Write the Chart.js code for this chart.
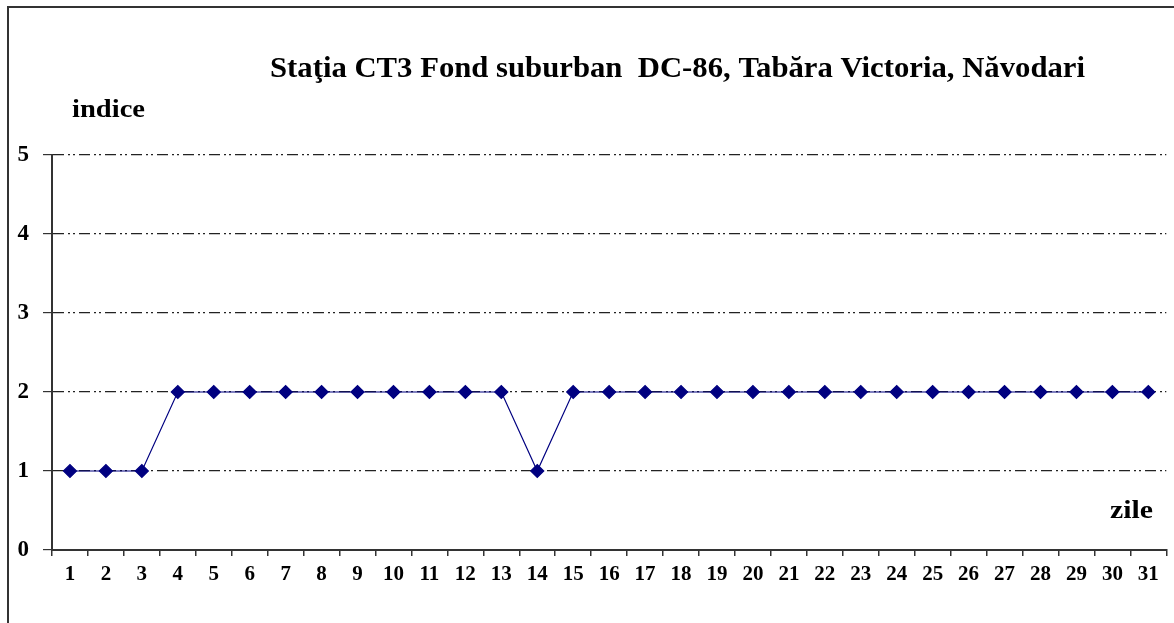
<!DOCTYPE html>
<html>
<head>
<meta charset="utf-8">
<script src="https://cdn.jsdelivr.net/npm/chart.js@4/dist/chart.umd.min.js"></script>
<style>
  html, body { margin: 0; padding: 0; background: #fff; }
  #wrap { position: relative; width: 1174px; height: 623px; }
</style>
</head>
<body>
<div id="wrap"><canvas id="c" width="1174" height="623"></canvas></div>
<script>
const days = ['1','2','3','4','5','6','7','8','9','10','11','12','13','14','15','16','17','18','19','20','21','22','23','24','25','26','27','28','29','30','31'];
const indice = [1,1,1,2,2,2,2,2,2,2,2,2,2,1,2,2,2,2,2,2,2,2,2,2,2,2,2,2,2,2,2];
const yTicks = [0,1,2,3,4,5];
const titleText = 'Staţia CT3 Fond suburban  DC-86, Tabăra Victoria, Năvodari';
const yLabel = 'indice';
const xLabel = 'zile';

const serif = '"Liberation Serif", "Times New Roman", serif';

function fitText(ctx, text, x, y, size, targetW) {
  ctx.font = 'bold ' + size + 'px ' + serif;
  const w = ctx.measureText(text).width;
  ctx.save();
  ctx.translate(x, y);
  ctx.scale(targetW / w, 1);
  ctx.textAlign = 'left';
  ctx.textBaseline = 'middle';
  ctx.fillText(text, 0, 0);
  ctx.restore();
}

const decor = {
  id: 'decor',
  beforeDraw(chart) {
    const ctx = chart.ctx;
    ctx.save();
    ctx.fillStyle = '#fff';
    ctx.fillRect(0, 0, chart.width, chart.height);
    ctx.strokeStyle = '#333';
    ctx.lineWidth = 2;
    ctx.beginPath();
    ctx.moveTo(8, 623); ctx.lineTo(8, 7); ctx.lineTo(1174, 7);
    ctx.stroke();
    ctx.restore();
  },
  afterDraw(chart) {
    const ctx = chart.ctx;
    ctx.save();
    ctx.fillStyle = '#000';
    fitText(ctx, titleText, 270, 70, 29, 815);
    fitText(ctx, yLabel, 72, 110, 26, 73);
    fitText(ctx, xLabel, 1110, 512, 25, 43);
    ctx.restore();
  }
};

new Chart(document.getElementById('c'), {
  type: 'line',
  data: {
    labels: days,
    datasets: [{
      data: indice,
      borderColor: '#000080',
      backgroundColor: '#000080',
      borderWidth: 1.2,
      pointStyle: 'rectRot',
      pointRadius: 6.5,
      pointHoverRadius: 6.5,
      tension: 0
    }]
  },
  options: {
    responsive: false,
    animation: false,
    events: [],
    layout: { padding: { top: 155, right: 5, bottom: 0, left: 0 } },
    plugins: { legend: { display: false }, title: { display: false }, tooltip: { enabled: false } },
    scales: {
      x: {
        type: 'category',
        offset: true,
        grid: { offset: true, drawOnChartArea: false, drawTicks: true, tickLength: 6, color: '#333', lineWidth: 1.5 },
        border: { display: true, color: '#333', width: 2 },
        ticks: { color: '#000', font: { family: serif, size: 21, weight: 'bold' }, padding: 6, maxRotation: 0, autoSkip: false },
        afterFit(s) { s.height = 73; }
      },
      y: {
        min: 0, max: 5,
        afterBuildTicks(s) { s.ticks = yTicks.map(v => ({ value: v })); },
        grid: {
          drawOnChartArea: true, drawTicks: true, tickLength: 9,
          color: (c) => (c.tick && c.tick.value === 0) ? 'rgba(0,0,0,0)' : '#222',
          tickColor: '#333', lineWidth: 1.2, tickBorderDash: []
        },
        border: { display: true, color: '#333', width: 2, dash: [11, 4, 2, 3, 2, 4] },
        ticks: { color: '#000', font: { family: serif, size: 23, weight: 'bold' }, padding: 14 },
        afterFit(s) { s.width = 52; }
      }
    }
  },
  plugins: [decor]
});
</script>
</body>
</html>
